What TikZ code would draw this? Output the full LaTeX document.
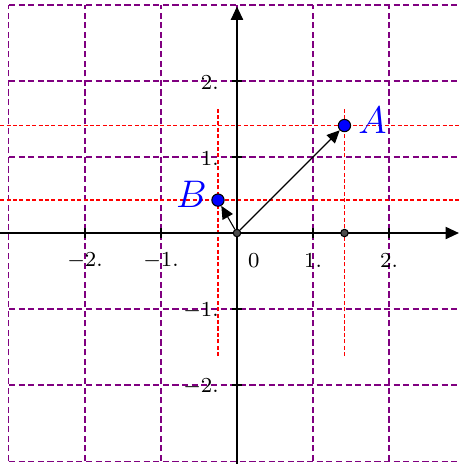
\documentclass[tikz,border=0pt]{standalone}
\usepackage{tikz}
\usetikzlibrary{arrows.meta,positioning}
\definecolor{gridcol}{RGB}{128,0,128}

\begin{document}
\begin{tikzpicture}[
   x=1cm, y=1cm,
   gridline/.style={gridcol, line width=0.4pt, dash pattern=on 2.3pt off 1.3pt},
   guide/.style={red, line width=0.5pt, dash pattern=on 1.5pt off 0.9pt},
   axis/.style={-{Triangle[length=5pt,width=4.6pt]}, line width=0.45pt},
   vec/.style={-{Triangle[length=4.8pt,width=4.4pt]}, line width=0.4pt},
   pt/.style={circle, draw, fill=blue, inner sep=0pt, minimum size=4.6pt},
   dot/.style={circle, draw, fill=black!70, inner sep=0pt, minimum size=2.8pt},
   lbl/.style={text=blue, font=\fontsize{13.5pt}{16pt}\selectfont, inner sep=1pt},
   tick/.style={font=\footnotesize, inner sep=1pt},
]
\useasboundingbox (-3.118,-3.039) rectangle (2.921,3.066);
\clip (-3.118,-3.039) rectangle (2.921,3.066);
% grid
\draw[gridline] (-3,-3) grid (3,3);
% guides through A and B
\draw[guide] (-3.2,1.414) -- (3,1.414);
\draw[guide] (-3.2,0.433) -- (3,0.433);
\draw[guide] (-0.25,-1.62) -- (-0.25,1.65);
\draw[guide] (1.414,-1.62) -- (1.414,1.65);
% axes
\draw[axis] (-3.2,0) -- (2.92,0);
\draw[axis] (0,-3.2) -- (0,2.98);
\foreach \t in {-2,-1,1,2} {
  \draw (\t,-0.06) -- (\t,0.06);
  \draw (-0.06,\t) -- (0.06,\t);
  \node[tick] at (\t,-0.36) {$\t.$};
  \node[tick, anchor=east] at (-0.2,\t-0.02) {$\t.$};
}
\node[tick] at (0.22,-0.36) {$0$};
% points
\node[dot] (O) at (0,0) {};
\node[dot] (P) at (1.414,0) {};
\node[pt] (A) at (1.414,1.414) {};
\node[pt] (B) at (-0.25,0.433) {};
\node[lbl, right=1.5pt of A, yshift=2pt] (la) {$A$};
\node[lbl, left=0.5pt of B, yshift=2pt] (lb) {$B$};
% vectors
\draw[vec] (O) -- (A);
\draw[vec] (O) -- (B);
\end{tikzpicture}
\end{document}
